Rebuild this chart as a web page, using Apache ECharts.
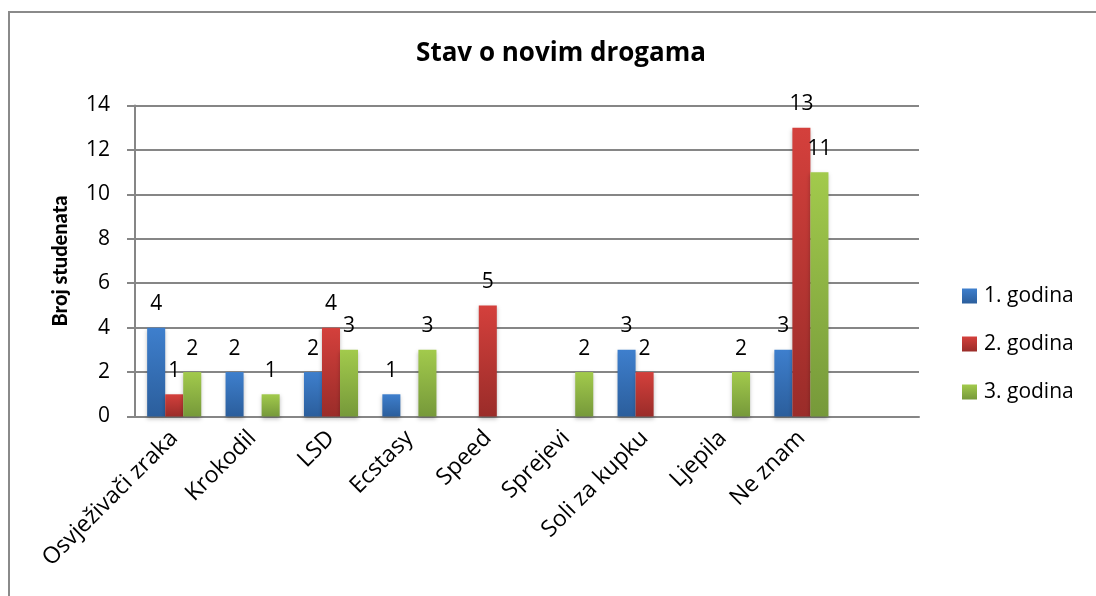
<!DOCTYPE html>
<html>
<head>
<meta charset="utf-8">
<script src="https://cdn.jsdelivr.net/npm/echarts@6/dist/echarts.min.js"></script>
<style>
html,body{margin:0;padding:0;background:#fff;}
#chart{width:1096px;height:596px;}
</style>
</head>
<body>
<div id="chart"></div>
<script>
var categories = ['Osvježivači zraka', 'Krokodil', 'LSD', 'Ecstasy', 'Speed', 'Sprejevi', 'Soli za kupku', 'Ljepila', 'Ne znam', ''];
var seriesNames = ['1. godina', '2. godina', '3. godina'];
var year1 = [4, 2, 2, 1, null, null, 3, null, 3, null];
var year2 = [1, null, 4, null, 5, null, 2, null, 13, null];
var year3 = [2, 1, 3, 3, null, 2, null, 2, 11, null];
var yTicks = [0, 2, 4, 6, 8, 10, 12, 14];

var FONT = '"Open Sans"';
function grad(top, bottom) {
  return new echarts.graphic.LinearGradient(0, 0, 0, 1, [
    { offset: 0, color: top },
    { offset: 1, color: bottom }
  ]);
}
var fills = [
  grad('#3E7FCD', '#2B5E9C'),
  grad('#D4403C', '#9A2C29'),
  grad('#A2CA4C', '#76993A')
];
var dataSets = [year1, year2, year3];

var chart = echarts.init(document.getElementById('chart'), null, { renderer: 'canvas' });
var option = {
  backgroundColor: '#fff',
  animation: false,
  textStyle: { fontFamily: FONT },
  title: {
    text: 'Stav o novim drogama',
    left: 556,
    textAlign: 'center',
    top: 36,
    textStyle: { fontFamily: FONT, fontSize: 26, fontWeight: 'bold', color: '#000' }
  },
  graphic: [{
    type: 'rect',
    shape: { x: 9, y: 12, width: 1200, height: 700 },
    style: { fill: null, stroke: '#8a8a8a', lineWidth: 2 },
    silent: true,
    z: 100
  }],
  legend: {
    orient: 'vertical',
    left: 957,
    top: 280,
    itemWidth: 15,
    itemHeight: 15,
    itemGap: 26,
    icon: 'rect',
    textStyle: { fontFamily: FONT, fontSize: 21, lineHeight: 22, color: '#000', padding: [0, 0, 0, 2] },
    data: seriesNames
  },
  grid: { left: 135, right: 177, top: 105.5, bottom: 179.5, containLabel: false },
  xAxis: {
    type: 'category',
    data: categories,
    axisLine: { lineStyle: { color: '#868686', width: 2 } },
    axisTick: { show: false },
    axisLabel: { rotate: 45, interval: 0, margin: 18, fontFamily: FONT, fontSize: 23, color: '#000' },
    splitLine: { show: false }
  },
  yAxis: {
    type: 'value',
    min: yTicks[0],
    max: yTicks[yTicks.length - 1],
    interval: 2,
    name: 'Broj studenata',
    nameLocation: 'middle',
    nameGap: 64,
    nameTextStyle: { fontFamily: 'Lato', fontSize: 20, fontWeight: 900, color: '#000' },
    axisLine: { show: true, lineStyle: { color: '#868686', width: 2 } },
    axisTick: { show: true, length: 8, lineStyle: { color: '#868686', width: 2 } },
    axisLabel: { margin: 25, fontFamily: FONT, fontSize: 21, color: '#000' },
    splitLine: { show: true, lineStyle: { color: '#868686', width: 2 } }
  },
  series: seriesNames.map(function (name, i) {
    return {
      name: name,
      type: 'bar',
      data: dataSets[i],
      barGap: '0%',
      barCategoryGap: '31%',
      itemStyle: { color: fills[i], shadowColor: 'rgba(0,0,0,0.25)', shadowBlur: 4, shadowOffsetY: 2 },
      label: {
        show: true,
        position: 'top',
        distance: 13,
        fontFamily: FONT,
        fontSize: 21,
        color: '#000'
      }
    };
  })
};
chart.setOption(option);
</script>
</body>
</html>
